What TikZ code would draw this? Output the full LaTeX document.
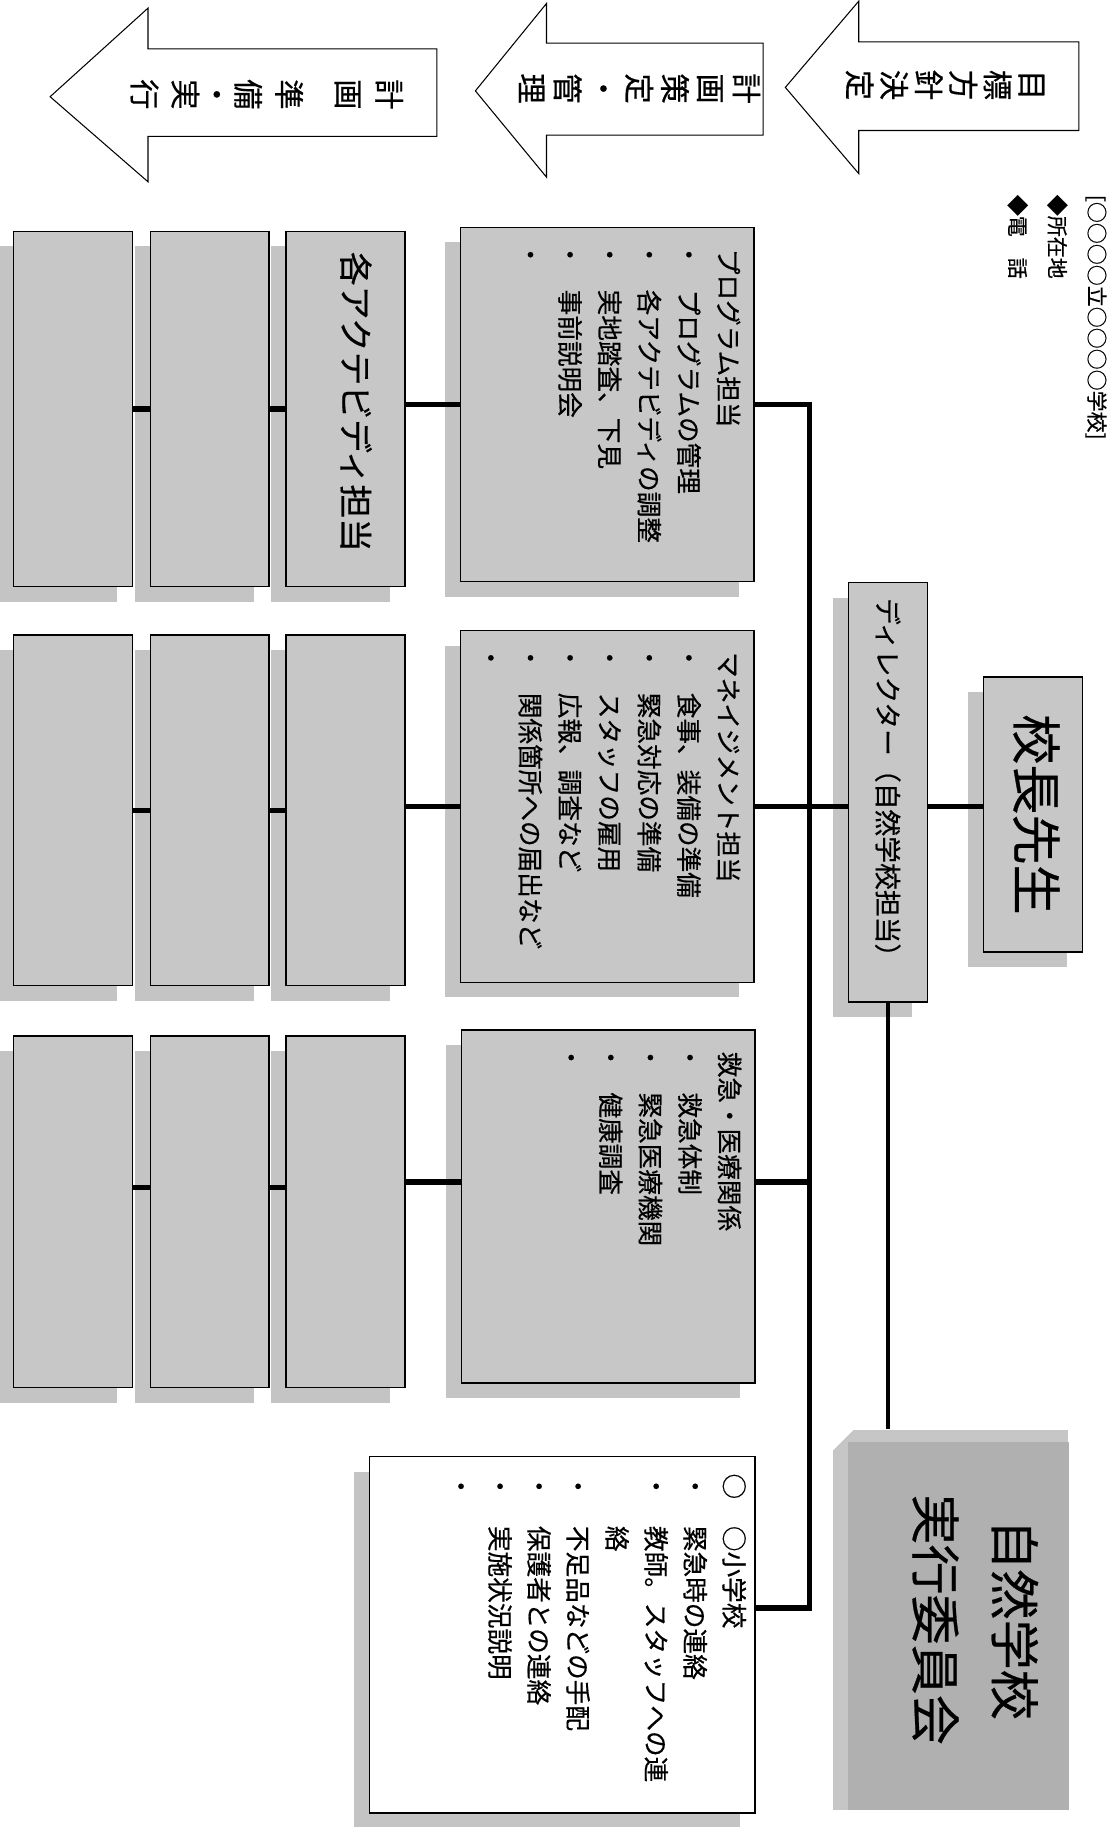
\documentclass[tikz,border=0pt]{standalone}
\usepackage{fontspec}
\newfontfamily\jpfont[FakeBold=0.5]{Noto Sans CJK JP}
\usetikzlibrary{shadows}

% Aufzaehlungspunkte
\newcommand\bul[1]{\makebox[35pt][l]{\hspace*{-6pt}・}#1}
\newcommand\sbul[1]{\makebox[45pt][l]{・}#1}

\begin{document}
\begin{tikzpicture}[x=1pt, y=-1pt,
    every node/.style={font=\jpfont},
    boxitem/.style={draw, line width=1.2pt, fill=gray!44, inner sep=0pt,
      drop shadow={shadow xshift=-13pt, shadow yshift=-13pt, fill=gray!46, opacity=1}},
    txt/.style={rotate=-90, anchor=north west, align=left, inner sep=0pt,
      font=\jpfont\fontsize{22}{34}\selectfont},
    tate/.style={rotate=-90, align=center, inner sep=0pt},
    bigarrow/.style={draw, line width=0.9pt, fill=white, line join=miter},
    trunk/.style={line width=4.5pt},
    thinline/.style={line width=3pt}]

    \useasboundingbox (0,0) rectangle (956,1568);

    % Pfeile oben
    \draw[bigarrow] (43,83) -- (127,7) -- (127,42) -- (375,42) -- (375,117)
        -- (127,117) -- (127,156) -- cycle;
    \draw[bigarrow] (408,78) -- (469,3) -- (469,37) -- (655,37) -- (655,116)
        -- (469,116) -- (469,152) -- cycle;
    \draw[bigarrow] (674,75) -- (737,1) -- (737,36) -- (926,36) -- (926,112)
        -- (737,112) -- (737,149) -- cycle;

    \node[tate, font=\jpfont\fontsize{26}{35}\selectfont] (prep) at (229,81)
        {計\\画\\[16pt]準\\備\\[-8pt]・\\[-8pt]実\\行};
    \node[tate, font=\jpfont\fontsize{26}{30.7}\selectfont] (plan) at (549,76)
        {計\\画\\策\\定\\・\\管\\理};
    \node[tate, font=\jpfont\fontsize{26}{29.6}\selectfont] (goal) at (811,73)
        {目\\標\\方\\針\\決\\定};

    % Schulangaben
    \node[txt, font=\jpfont\fontsize{18}{34}\selectfont] (addr) at (950,167)
        {[○○○○立○○○○学校]\\◆所在地\\◆電　話};

    % Kaesten Mitte
    \node[boxitem, minimum width=252pt, minimum height=304pt] (prog) at (521,347) {};
    \node[boxitem, minimum width=252pt, minimum height=302pt] (mgmt) at (521,692) {};
    \node[boxitem, minimum width=252pt, minimum height=303pt] (kyu) at (522,1035.5) {};

    % Kaesten links
    \foreach \row/\yy/\hh in {1/351/305, 2/695.5/301, 3/1040/302}
      \foreach \col/\xx in {1/296.5, 2/180, 3/62.5}
        \node[boxitem, minimum width=102pt, minimum height=\hh pt] (a\row\col) at (\xx,\yy) {};

    % Leitung
    \node[boxitem, minimum width=68pt, minimum height=360pt] (dir) at (762,680) {};
    \node[boxitem, minimum width=85pt, minimum height=236pt] (kocho) at (886.5,699) {};
    \node[boxitem, fill=white, minimum width=331pt, minimum height=306pt] (school) at (482.5,1403) {};

    % Ausschuss (ohne Rahmen)
    \node[fill=gray!45, inner sep=0pt, minimum width=202pt, minimum height=326pt] (jikko) at (816,1390) {};
    \fill[gray!62] ([xshift=13pt, yshift=-11pt]jikko.north west) rectangle (jikko.south east);
    \fill[white] (jikko.north west) -- ++(18,0) -- ++(-18,18) -- cycle;

    % Verbindungen
    \coordinate (tk) at (695,0);
    \draw[trunk] (prog.east) -| ([yshift=23pt]school.east -| tk) -- ([yshift=23pt]school.east);
    \draw[trunk] (mgmt.east) -- (mgmt.east -| dir.west);
    \draw[trunk] ([yshift=21pt]kyu.east) -- ([yshift=21pt]kyu.east -| tk);
    \draw[trunk] (mgmt.east -| dir.east) -- (mgmt.east -| kocho.west);
    \draw[thinline] (dir.south) -- (dir.south |- jikko.north);

    \foreach \row/\m/\dy in {1/prog/0, 2/mgmt/0, 3/kyu/21} {
      \draw[trunk] ([yshift=\dy pt]\m.west) -- ([yshift=\dy pt]\m.west -| a\row1.east);
      \draw[trunk] ([yshift=\dy pt]a\row1.west) -- ([yshift=\dy pt]a\row1.west -| a\row2.east);
      \draw[trunk] ([yshift=\dy pt]a\row2.west) -- ([yshift=\dy pt]a\row2.west -| a\row3.east);
    }

    % Texte
    \node[txt] (progtxt) at ([xshift=-12pt, yshift=-19pt]prog.north east)
        {プログラム担当\\\bul{プログラムの管理}\\\bul{各アクテビディの調整}\\%
         \bul{実地踏査、下見}\\\bul{事前説明会}\\\bul{}};
    \node[txt] (mgmttxt) at ([xshift=-12pt, yshift=-19pt]mgmt.north east)
        {マネイジメント担当\\\bul{食事、装備の準備}\\\bul{緊急対応の準備}\\%
         \bul{スタッフの雇用}\\\bul{広報、調査など}\\\bul{関係箇所への届出など}\\\bul{}};
    \node[txt] (kyutxt) at ([xshift=-12pt, yshift=-19pt]kyu.north east)
        {救急・医療関係\\\bul{救急体制}\\\bul{緊急医療機関}\\\bul{健康調査}\\\bul{}};
    \node[txt, font=\jpfont\fontsize{22}{33.5}\selectfont] (schooltxt)
        at ([xshift=-8pt, yshift=-15pt]school.north east)
        {\makebox[45pt][l]{○}○小学校\\\sbul{緊急時の連絡}\\\sbul{教師。スタッフへの連}\\%
         \hspace*{45pt}絡\\\sbul{不足品などの手配}\\\sbul{保護者との連絡}\\\sbul{実施状況説明}\\\sbul{}};

    \node[rotate=-90, inner sep=0pt, font=\jpfont\fontsize{23}{28}\selectfont] (dirtxt)
        at ([yshift=7pt]dir.center) {ディレクター（自然学校担当）};
    \node[rotate=-90, inner sep=0pt, font=\jpfont\fontsize{43}{50}\selectfont] (kochotxt)
        at ([xshift=3pt]kocho.center) {校長先生};
    \node[rotate=-90, inner sep=0pt, font=\jpfont\fontsize{29}{34}\selectfont] (acttxt)
        at ([xshift=9pt, yshift=6pt]a11.center) {各アクテビディ担当};
    \node[rotate=-90, align=center, inner sep=0pt, font=\jpfont\fontsize{43}{68}\selectfont] (jikkotxt)
        at ([xshift=21pt]jikko.center) {自然学校\\実行委員会};

\end{tikzpicture}
\end{document}
